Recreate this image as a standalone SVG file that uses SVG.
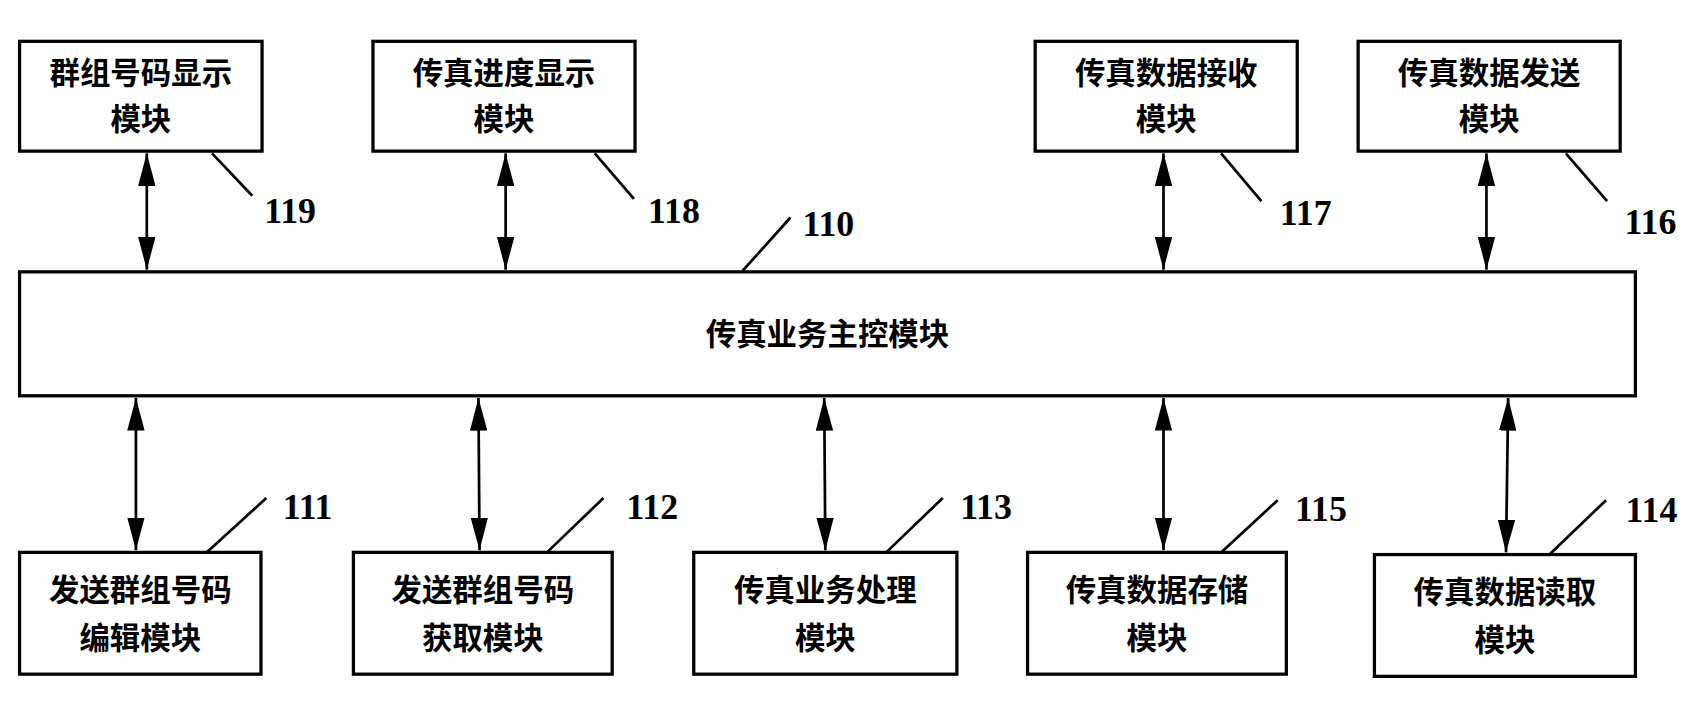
<svg xmlns="http://www.w3.org/2000/svg" width="1705" height="704" viewBox="0 0 1705 704">
<defs>
<marker id="ah" viewBox="0 0 10 10" refX="10" refY="5" markerWidth="30" markerHeight="16" markerUnits="userSpaceOnUse" orient="auto-start-reverse" preserveAspectRatio="none"><path d="M0,0 L10,5 L0,10 z" fill="#000"/></marker>
</defs>
<style>
rect{fill:#fff;stroke:#000;stroke-width:3}
.t{font-family:"Noto Sans CJK SC",sans-serif;font-weight:bold;font-size:28px;text-anchor:middle}
.n{font-family:"Liberation Serif",serif;font-weight:bold;font-size:33px}
.c line{stroke:#000;stroke-width:2.5}
.a{marker-start:url(#ah);marker-end:url(#ah)}
</style>
<rect x="0" y="0" width="1705" height="704" style="fill:#fff;stroke:none"/>
<g transform="scale(1.08737)">
<g id="n119"><rect x="18" y="38" width="223" height="101"/><text class="t" x="129.5" y="77">群组号码显示</text><text class="t" x="129.5" y="120">模块</text></g>
<g id="n118"><rect x="343" y="38" width="241" height="101"/><text class="t" x="463.5" y="77">传真进度显示</text><text class="t" x="463.5" y="120">模块</text></g>
<g id="n117"><rect x="952" y="38" width="241" height="101"/><text class="t" x="1072.5" y="77">传真数据接收</text><text class="t" x="1072.5" y="120">模块</text></g>
<g id="n116"><rect x="1249" y="38" width="241" height="101"/><text class="t" x="1369.5" y="77">传真数据发送</text><text class="t" x="1369.5" y="120">模块</text></g>
<g id="n110"><rect x="18" y="250" width="1486" height="114"/><text class="t" x="761" y="317">传真业务主控模块</text></g>
<g id="n111"><rect x="18" y="508" width="222" height="112"/><text class="t" x="129" y="553">发送群组号码</text><text class="t" x="129" y="597">编辑模块</text></g>
<g id="n112"><rect x="325" y="508" width="238" height="112"/><text class="t" x="444" y="553">发送群组号码</text><text class="t" x="444" y="597">获取模块</text></g>
<g id="n113"><rect x="638" y="508" width="242" height="112"/><text class="t" x="759" y="553">传真业务处理</text><text class="t" x="759" y="597">模块</text></g>
<g id="n115"><rect x="945" y="508" width="238" height="112"/><text class="t" x="1064" y="553">传真数据存储</text><text class="t" x="1064" y="597">模块</text></g>
<g id="n114"><rect x="1264" y="510" width="240" height="112"/><text class="t" x="1384" y="555">传真数据读取</text><text class="t" x="1384" y="599">模块</text></g>
<g class="c">
<line class="a" x1="135" y1="141" x2="135" y2="248"/>
<line class="a" x1="465" y1="141" x2="465" y2="248"/>
<line class="a" x1="1070" y1="141" x2="1070" y2="248"/>
<line class="a" x1="1367" y1="141" x2="1367" y2="248"/>
<line class="a" x1="125" y1="366" x2="125" y2="506"/>
<line class="a" x1="440" y1="366" x2="441" y2="506"/>
<line class="a" x1="758" y1="366" x2="759" y2="506"/>
<line class="a" x1="1070" y1="366" x2="1070" y2="506"/>
<line class="a" x1="1387" y1="366" x2="1385" y2="508"/>
<line x1="195" y1="141" x2="232" y2="180"/>
<line x1="547" y1="141" x2="583" y2="183"/>
<line x1="683" y1="249" x2="727" y2="200"/>
<line x1="1123" y1="141" x2="1160" y2="185"/>
<line x1="1440" y1="141" x2="1478" y2="185"/>
<line x1="190" y1="508" x2="245" y2="458"/>
<line x1="503" y1="508" x2="555" y2="458"/>
<line x1="815" y1="508" x2="867" y2="458"/>
<line x1="1123" y1="508" x2="1175" y2="460"/>
<line x1="1425" y1="510" x2="1477" y2="460"/>
</g>
<text class="n" x="243" y="205">119</text>
<text class="n" x="596" y="205">118</text>
<text class="n" x="738" y="217">110</text>
<text class="n" x="1177" y="207">117</text>
<text class="n" x="1494" y="215">116</text>
<text class="n" x="260" y="477">111</text>
<text class="n" x="576" y="477">112</text>
<text class="n" x="883" y="477">113</text>
<text class="n" x="1191" y="479">115</text>
<text class="n" x="1495" y="480">114</text>
</g>
</svg>
